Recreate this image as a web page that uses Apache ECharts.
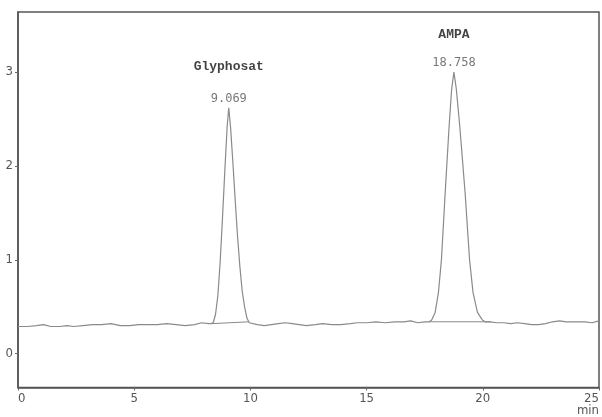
<!DOCTYPE html>
<html>
<head>
<meta charset="utf-8">
<script src="https://cdn.jsdelivr.net/npm/echarts@6/dist/echarts.min.js"></script>
<style>
  html, body { margin: 0; padding: 0; background: #fff; }
  #chart { width: 602px; height: 417px; }
</style>
</head>
<body>
<div id="chart"></div>
<script>
// retention time (min) and detector signal
const times = [
    0, 0.4, 0.8, 1.1, 1.4, 1.8, 2.1, 2.4, 2.8, 3.2, 3.6, 4.0, 4.4, 4.8, 5.2, 5.6, 6.0, 6.4, 6.8, 7.2, 7.6, 7.9, 8.2,
    8.3, 8.4, 8.5, 8.6, 8.7, 8.8, 8.9, 9.0, 9.069, 9.15, 9.25, 9.35, 9.45, 9.55, 9.65, 9.75, 9.85, 9.95,
    10.3, 10.6, 10.9, 11.2, 11.5, 11.8, 12.1, 12.4, 12.8, 13.1, 13.5, 13.9, 14.3, 14.6, 15.0, 15.4, 15.8, 16.2, 16.6, 16.9, 17.2, 17.5,
    17.7, 17.8, 17.95, 18.09, 18.22, 18.38, 18.55, 18.66, 18.758, 18.86, 19.01, 19.24, 19.43, 19.58, 19.77, 19.98, 20.1,
    20.3, 20.6, 20.9, 21.2, 21.5, 21.8, 22.1, 22.4, 22.7, 23.0, 23.3, 23.6, 24.0, 24.4, 24.7, 25.0
]
const signal = [
    0.29, 0.29, 0.30, 0.31, 0.29, 0.29, 0.30, 0.29, 0.30, 0.31, 0.31, 0.32, 0.30, 0.30, 0.31, 0.31, 0.31, 0.32, 0.31, 0.30, 0.31, 0.33, 0.32,
    0.32, 0.33, 0.42, 0.62, 0.98, 1.45, 1.95, 2.42, 2.62, 2.40, 2.02, 1.62, 1.24, 0.92, 0.66, 0.50, 0.38, 0.33,
    0.31, 0.30, 0.31, 0.32, 0.33, 0.32, 0.31, 0.30, 0.31, 0.32, 0.31, 0.31, 0.32, 0.33, 0.33, 0.34, 0.33, 0.34, 0.34, 0.35, 0.33, 0.34,
    0.34, 0.36, 0.44, 0.65, 1.00, 1.71, 2.42, 2.82, 3.00, 2.82, 2.42, 1.71, 1.00, 0.65, 0.44, 0.36, 0.34,
    0.34, 0.33, 0.33, 0.32, 0.33, 0.32, 0.31, 0.31, 0.32, 0.34, 0.35, 0.34, 0.34, 0.34, 0.33, 0.35
]

// peaks
const peakNames = ['Glyphosat', 'AMPA']
const peakTimes = [9.069, 18.758]
const peakHeights = [2.62, 3.00]

// integration baselines (start / end of each peak)
const baseStart = [[8.33, 0.32], [17.72, 0.34]]
const baseEnd = [[9.95, 0.34], [20.35, 0.34]]

const xTicks = [0, 5, 10, 15, 20, 25]
const yTicks = [0, 1, 2, 3]

const labelFont = "'Liberation Sans Narrow', 'DejaVu Sans Condensed', sans-serif"

const myChart = echarts.init(document.getElementById('chart'))

const baseSeries = baseStart.map((s, i) => ({
    type: 'line',
    symbol: 'none',
    silent: true,
    lineStyle: { color: '#8a8a8a', width: 1 },
    data: [s, baseEnd[i]]
}))

const option = {
    backgroundColor: '#fff',
    animation: false,
    grid: {
        left: 18,
        right: 1,
        top: 12,
        bottom: 29,
        show: true,
        borderColor: '#555',
        borderWidth: 1.5
    },
    xAxis: {
        type: 'value',
        min: 0,
        max: 25,
        splitLine: { show: false },
        axisLine: { show: true, onZero: false, lineStyle: { color: '#555', width: 1.5 } },
        axisTick: { show: true, length: 3, customValues: xTicks, lineStyle: { color: '#666' } },
        axisLabel: {
            customValues: xTicks,
            color: '#555',
            fontFamily: labelFont,
            fontSize: 13,
            margin: 5,
            lineHeight: 12,
            alignMinLabel: 'left',
            alignMaxLabel: 'right',
            formatter: v => v === 25 ? '25\nmin' : String(v)
        }
    },
    yAxis: {
        type: 'value',
        min: -0.36,
        max: 3.64,
        splitLine: { show: false },
        axisLine: { show: true, onZero: false, lineStyle: { color: '#555', width: 1.5 } },
        axisTick: { show: true, length: 3, customValues: yTicks, lineStyle: { color: '#666' } },
        axisLabel: {
            customValues: yTicks,
            color: '#555',
            fontFamily: labelFont,
            fontSize: 13,
            margin: 5
        }
    },
    series: [
        {
            type: 'line',
            symbol: 'none',
            lineStyle: { color: '#8a8a8a', width: 1.2 },
            data: times.map((t, i) => [t, signal[i]])
        },
        ...baseSeries,
        {
            type: 'scatter',
            symbolSize: 0,
            data: peakTimes.map((t, i) => ({
                value: [t, peakHeights[i]],
                name: peakNames[i],
                label: {
                    rich: {
                        // name sits higher above Glyphosat than above AMPA
                        n: { padding: [0, 0, i === 0 ? 20 : 16, 0] }
                    }
                }
            })),
            label: {
                show: true,
                position: 'top',
                distance: 3,
                formatter: p => '{n|' + p.name + '}\n{t|' + p.value[0].toFixed(3) + '}',
                rich: {
                    n: {
                        fontFamily: "'Liberation Mono', 'Courier New', monospace",
                        fontWeight: 'bold',
                        fontSize: 13,
                        color: '#111',
                        align: 'center'
                    },
                    t: {
                        fontFamily: "'DejaVu Sans Mono', monospace",
                        fontSize: 12,
                        color: '#555',
                        align: 'center'
                    }
                }
            }
        }
    ]
}

myChart.setOption(option)
window.addEventListener('resize', () => {
    myChart.resize()
})
</script>
</body>
</html>
